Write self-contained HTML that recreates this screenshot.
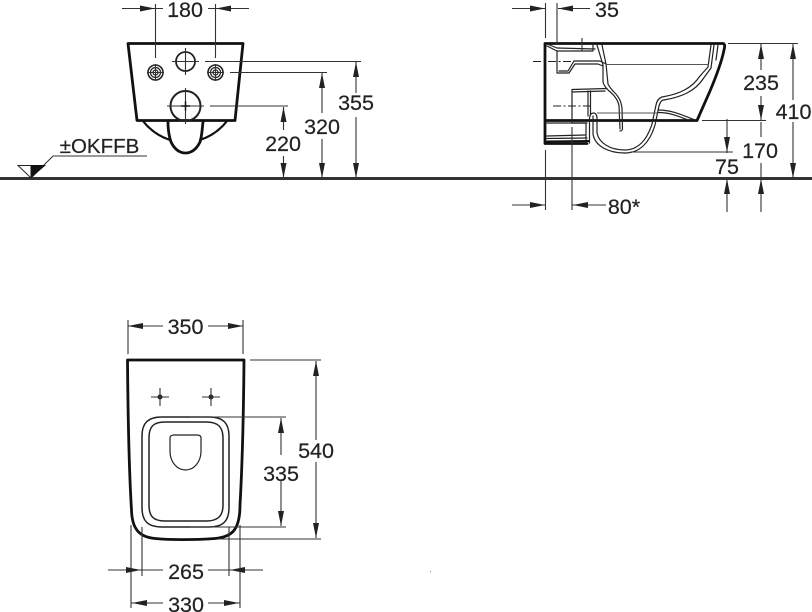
<!DOCTYPE html>
<html><head><meta charset="utf-8"><style>
html,body{margin:0;padding:0;background:#fff}
svg{display:block}
text{font-family:"Liberation Sans",sans-serif;font-size:21.5px;fill:#222;text-anchor:middle;stroke:#222;stroke-width:.2}
.t{fill:none;stroke:#111;stroke-width:2.8;stroke-linejoin:round;stroke-linecap:round}
.m{fill:none;stroke:#222;stroke-width:1.5;stroke-linejoin:round}
.n{fill:none;stroke:#222;stroke-width:1.2;stroke-linejoin:round;stroke-linecap:round}
.d{fill:none;stroke:#333;stroke-width:1.1}
.l{fill:none;stroke:#555;stroke-width:1}
.c{fill:none;stroke:#222;stroke-width:1.1;stroke-dasharray:8 2.500 2 2.500}
.a{fill:#222;stroke:none}
</style></head><body>
<svg width="812" height="612" viewBox="0 0 812 612" xmlns="http://www.w3.org/2000/svg">
<defs>
<path id="ar" class="a" d="M0 0L-15 -3V3Z"/>
</defs>
<rect x="0" y="177" width="812" height="3" fill="#333"/>

<!-- FRONT -->
<path class="t" d="M128 43.500H243L235 120.500H137Z"/>
<path class="t" style="stroke-width:2.200" d="M143 121C150 130 158 136 170 140M227 121C220 130 212 136 200 140"/>
<path class="t" d="M168 122C168 130 169 136 171 142C175 150 180 153 185.500 153C191 153 196 150 200 142C202 136 202 130 203 122"/>
<circle class="m" style="stroke-width:1.800" cx="185.500" cy="61.500" r="9.500"/>
<path class="d" d="M172 61.500H199M185.500 48V75"/>
<circle class="m" style="stroke-width:2" cx="185.500" cy="106" r="15"/>
<path class="d" d="M167 106H204M185.500 88V124"/>
<path d="M181 106H190M185.500 101.500V110.500" stroke="#111" stroke-width="1.500"/>
<g fill="none" stroke="#222" stroke-width="1.200">
<circle cx="155.500" cy="72.500" r="7.500" stroke-width="1.600"/><circle cx="155.500" cy="72.500" r="5"/><circle cx="155.500" cy="72.500" r="2.500"/>
<circle cx="215.500" cy="72.500" r="7.500" stroke-width="1.600"/><circle cx="215.500" cy="72.500" r="5"/><circle cx="215.500" cy="72.500" r="2.500"/>
</g>
<path class="d" d="M147 72.500H164M155.500 64V81M207 72.500H224M215.500 64V81"/>
<!-- front dims -->
<path class="d" d="M155.500 4V58M215.500 4V58M122 8.500H163M208 8.500H249"/>
<use href="#ar" transform="translate(155,8.500)"/>
<use href="#ar" transform="translate(216,8.500) rotate(180)"/>
<text x="185" y="17">180</text>
<path class="d" d="M205 61.500H361M230 72.500H327M210 106H288"/>
<path class="d" d="M283.500 107V130M283.500 156V178M322 73V113M322 139V178M356 62V93M356 117V178"/>
<use href="#ar" transform="translate(283.500,107) rotate(-90)"/>
<use href="#ar" transform="translate(283.500,178) rotate(90)"/>
<use href="#ar" transform="translate(322,73) rotate(-90)"/>
<use href="#ar" transform="translate(322,178) rotate(90)"/>
<use href="#ar" transform="translate(356,62) rotate(-90)"/>
<use href="#ar" transform="translate(356,178) rotate(90)"/>
<text x="283" y="151">220</text>
<text x="322" y="134">320</text>
<text x="356" y="110">355</text>
<!-- OKFFB -->
<text x="99.500" y="153" style="font-size:20.500px">±OKFFB</text>
<path class="d" d="M147 156H53L31 178"/>
<path d="M18 165.500H31V178Z" fill="#fff" stroke="#222" stroke-width="1"/>
<path d="M31 165H46L31 178Z" fill="#111"/>

<!-- SIDE -->
<path class="t" d="M545 143.500V43.500H723C725 44 725 46 724 50C722 60 718 72 710 91L697 120.500H545M545 143.500H587"/>
<path class="n" d="M547 46L557 51H593V44M547 44L557 48L595 49"/>
<path class="n" d="M557 51V73H569L575 64H598L603 66"/>
<path class="n" d="M559 71H568L574 61H600L606 64"/>
<path class="n" d="M597 45L603 65V82C604 86 606 88 608 90C613 94 618 99 619 106L620 129"/>
<path class="n" d="M602 45L606 64L608 84C610 88 612 90 614 92C619 97 621 101 622 108L622.500 129C622 131 621 131 620 131"/>
<path class="n" d="M572 89.500L607 88.500M572 92L605 91M572 89.500V123H587"/>
<path class="n" d="M588 91V116M590.500 91V114"/>
<path class="n" d="M547 123H586"/>
<path class="n" d="M589.500 143V118C590 114 592 113 593.500 113C595.500 113 597 115 597 118V133C599 143 610 150 625 150C638 150 647 140 652 124L656 105C657 100 659 98 662 97C680 94 692 88 700 76L708 67L711 45"/>
<path class="n" d="M593 116V134C595 146 608 153 625 153C640 153 650 142 655 125L659 106C660 103 661 100 664 100C682 97 695 91 703 79L711 68L714 45"/>
<path class="n" d="M586 123V141M547 136L585 135M547 138.500L587 138"/>
<path class="t" style="stroke-width:2" d="M547 141.500L589 141"/>
<path class="l" d="M606 64.500H709M597 113H658"/>
<path class="n" d="M658 110C672 110 682 115 695 120"/>
<path class="n" d="M658 112.500C670 112.500 678 116 688 120"/>
<path class="n" d="M718 45L716 60"/>
<path class="c" d="M533 61.500H573M553 106H590"/>
<path class="d" d="M582 38V51"/>
<!-- side dims -->
<path class="d" d="M545.500 3V38M557 3V45M512 8.500H545M558 8.500H590"/>
<use href="#ar" transform="translate(545,8.500)"/>
<use href="#ar" transform="translate(558,8.500) rotate(180)"/>
<text x="607" y="17">35</text>
<path class="d" d="M545.500 150V210M572 127V210M512 205H545M572 205H606"/>
<use href="#ar" transform="translate(545,205)"/>
<use href="#ar" transform="translate(573,205) rotate(180)"/>
<text x="624" y="214">80*</text>
<path class="d" d="M728 43.500H798M702 120.500H766M630 152H733"/>
<path class="d" d="M761 44V70M761 96V120M761 122V137M761 163V212M793 44V100M793 122V178M727 119V153M727 179V212"/>
<use href="#ar" transform="translate(761,44) rotate(-90)"/>
<use href="#ar" transform="translate(761,120) rotate(90)"/>
<use href="#ar" transform="translate(793,44) rotate(-90)"/>
<use href="#ar" transform="translate(793,178) rotate(90)"/>
<use href="#ar" transform="translate(727,152) rotate(90)"/>
<use href="#ar" transform="translate(727,179) rotate(-90)"/>
<use href="#ar" transform="translate(761,179) rotate(-90)"/>
<text x="761" y="90">235</text>
<text x="793.500" y="119">410</text>
<text x="760" y="158">170</text>
<text x="727" y="174">75</text>

<!-- TOP VIEW -->
<path class="t" d="M127.500 360H244C243.500 420 242 470 240 505C240 530 232 537 215 538.500C195 540 170 540 155 538.500C140 537 132 530 131.500 510C129 470 128 420 127.500 360Z"/>
<path class="n" style="stroke-width:1.500" d="M142 436C142 423 148 417 162 417H209C223 417 229 423 229 436V508C229 521 223 527 209 527H162C148 527 142 521 142 508Z"/>
<path class="n" style="stroke-width:1.500" d="M149 438C149 427 153 422 165 422H206C218 422 223 427 223 438V505C223 516 218 521 206 521H165C153 521 149 516 149 505Z"/>
<path class="n" d="M170 438C170 436 172 435 174 435H197C200 435 201 436 201 438V451C201 462 194 470 185.500 470C177 470 170 462 170 451Z"/>
<circle cx="160" cy="397" r="2.500" fill="#222"/><circle cx="211" cy="397" r="2.500" fill="#222"/>
<path class="d" d="M151 397H169M160 388V406M202 397H220M211 388V406"/>
<!-- top dims -->
<path class="d" d="M128 320V354M243 320V354M128 326H163M208 326H243"/>
<use href="#ar" transform="translate(128,326) rotate(180)"/>
<use href="#ar" transform="translate(243,326)"/>
<text x="185.500" y="334">350</text>
<path class="d" d="M250 360H321M190 417H286M190 527H286M220 539H321"/>
<path class="d" d="M316 361V440M316 462V538M281 418V455M281 481V526"/>
<use href="#ar" transform="translate(316,361) rotate(-90)"/>
<use href="#ar" transform="translate(316,538) rotate(90)"/>
<use href="#ar" transform="translate(281,418) rotate(-90)"/>
<use href="#ar" transform="translate(281,526) rotate(90)"/>
<text x="316" y="458">540</text>
<text x="281" y="481">335</text>
<path class="d" d="M142 527V576M229 527V576M131 525V608M240 525V608M108 570H163M208 570H263"/>
<use href="#ar" transform="translate(141,570)"/>
<use href="#ar" transform="translate(230,570) rotate(180)"/>
<text x="186" y="579">265</text>
<path class="d" d="M131 603H163M208 603H240"/>
<use href="#ar" transform="translate(132,603) rotate(180)"/>
<use href="#ar" transform="translate(239,603)"/>
<text x="186" y="612">330</text>
<rect x="430" y="571" width="1" height="1" fill="#888"/>
</svg>
</body></html>
